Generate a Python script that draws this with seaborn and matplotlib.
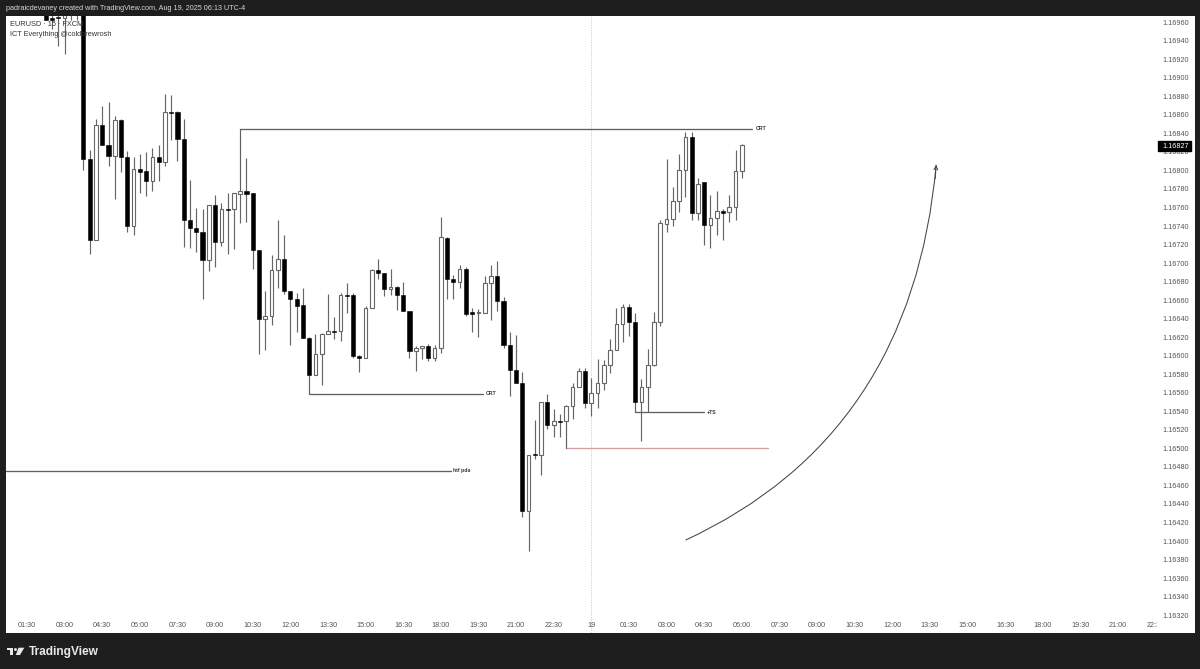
import numpy as np
import pandas as pd
import matplotlib
matplotlib.use("Agg")
import matplotlib.pyplot as plt
from matplotlib.patches import Rectangle, Polygon, PathPatch
from matplotlib.path import Path
from matplotlib.transforms import Bbox
import seaborn as sns

# ---- data (prices in 1e-5 units) ----
first_index = 3
opens = [116975,116964,116966,116965,116970,116972,117000,116812,116725,116849,116827,116816,116854,116815,116740,
 116801,116799,116789,116814,116809,116863,116863,116834,116747,116738,116734,116703,116763,116723,116758,116758,
 116775,116778,116776,116714,116640,116643,116693,116704,116670,116661,116655,116619,116579,116602,116623,116627,
 116627,116666,116666,116600,116598,116652,116693,116689,116672,116674,116666,116648,116605,116608,116610,116597,
 116608,116727,116683,116680,116694,116647,116646,116646,116679,116686,116659,116612,116585,116571,116432,116494,
 116493,116550,116525,116530,116529,116546,116566,116583,116549,116560,116571,116590,116606,116634,116653,116636,
 116550,116566,116590,116636,116742,116748,116767,116800,116836,116754,116787,116741,116749,116756,116755,116760,116799]
highs = [116975,116975,116975,116975,116975,116975,117000,116822,116856,116870,116874,116859,116856,116821,116814,
 116818,116820,116824,116827,116883,116881,116864,116856,116790,116759,116758,116763,116774,116765,116776,116776,
 116778,116813,116776,116714,116670,116709,116746,116730,116670,116668,116673,116620,116623,116625,116667,116642,
 116668,116678,116668,116601,116654,116694,116704,116689,116694,116675,116680,116648,116610,116611,116613,116612,
 116750,116728,116687,116698,116696,116652,116650,116686,116698,116702,116663,116626,116622,116582,116493,116531,
 116550,116559,116542,116537,116547,116571,116587,116587,116576,116596,116595,116618,116651,116656,116656,116646,
 116575,116607,116647,116747,116812,116782,116818,116841,116842,116792,116787,116774,116778,116758,116774,116822,116829]
lows = [116962,116953,116934,116926,116962,116962,116800,116710,116725,116827,116805,116769,116798,116734,116730,
 116776,116772,116778,116789,116805,116833,116810,116717,116716,116712,116661,116691,116696,116718,116710,116715,
 116743,116744,116694,116602,116606,116633,116673,116667,116612,116626,116619,116579,116579,116568,116623,116618,
 116616,116646,116598,116582,116598,116652,116683,116664,116666,116649,116648,116597,116584,116596,116594,116594,
 116603,116661,116661,116673,116643,116626,116620,116646,116639,116648,116608,116557,116571,116426,116389,116489,
 116471,116521,116512,116512,116529,116532,116566,116544,116535,116544,116563,116581,116606,116615,116621,116550,
 116508,116566,116589,116632,116734,116740,116755,116771,116747,116746,116720,116716,116730,116725,116744,116746,116792]
closes = [116962,116962,116964,116968,116971,116973,116812,116725,116849,116827,116816,116854,116815,116740,116801,
 116798,116789,116814,116809,116863,116862,116834,116747,116738,116734,116703,116763,116723,116758,116757,116776,
 116778,116775,116714,116640,116643,116693,116704,116670,116661,116654,116619,116579,116602,116623,116627,116626,
 116665,116664,116600,116598,116652,116693,116689,116672,116674,116665,116648,116605,116608,116610,116597,116608,
 116728,116683,116680,116694,116645,116645,116647,116679,116686,116659,116612,116585,116571,116432,116493,116493,
 116550,116525,116530,116528,116546,116566,116583,116549,116560,116571,116590,116606,116634,116653,116636,116550,
 116566,116590,116636,116743,116748,116767,116800,116836,116754,116785,116741,116749,116756,116754,116760,116799,116827]

level_names  = ["CRT", "CRT", "+TS", "", "htf pda"]
level_start  = [34.0, 45.0, 97.0, 86.0, -3.35]
level_end    = [115.7, 72.7, 108.0, 118.1, 67.6]
level_prices = [116845, 116559, 116539, 116500, 116476]
level_labelx = [116.2, 73.2, 108.4, None, 67.9]
level_anchor = [116778, 116579, 116550, 116529, None]

extra_stem_x  = [99.0]
extra_stem_lo = [116539]
extra_stem_hi = [116566]

# the drawn curve: start, bend and end of the arc
arc_x = [105.05, 141.15, 145.0]
arc_y = [116401, 116514, 116806]

time_ticks  = list(range(0, 181, 6))
time_labels = ["01:30","03:00","04:30","06:00","07:30","09:00","10:30","12:00","13:30","15:00","16:30","18:00",
               "19:30","21:00","22:30","19","01:30","03:00","04:30","06:00","07:30","09:00","10:30","12:00",
               "13:30","15:00","16:30","18:00","19:30","21:00","22:30"]
price_ticks = [116320 + 20 * i for i in range(33)]
last_price  = 116827

SCALE = 1e5
BG = "#1e1e1e"
FONT = ["Liberation Sans", "DejaVu Sans"]
TXT = 5.2

sns.set_style("white")
plt.rcParams["font.family"] = FONT

fig = plt.figure(figsize=(12, 6.69), dpi=100, facecolor=BG)
ax = fig.add_axes([6/1200, 1-633/669, 1189/1200, 617.4/669])
ax.set_facecolor("white")
for s in ax.spines.values():
    s.set_visible(False)

df = pd.DataFrame({"o": opens, "h": highs, "l": lows, "c": closes}) / SCALE
df["i"] = np.arange(len(df)) + first_index
up = df[df.c >= df.o]
dn = df[df.c < df.o]

# crosshair
ax.axvline(90, color="#c8c8c8", lw=0.6, ls=(0, (1.5, 1.5)), zorder=0.5)

# wicks
ax.vlines(df.i, df.l, df.h, color="#666666", lw=0.85, zorder=2)
# bodies
ax.bar(dn.i, (dn.o - dn.c), bottom=dn.c, width=0.66, color="black", edgecolor="black", lw=0.4, zorder=3)
ax.bar(up.i, (up.c - up.o), bottom=up.o, width=0.58, color="white", edgecolor="#666666", lw=0.8, zorder=3)

# levels through seaborn
for name, a, b, p, lx, anc in zip(level_names, level_start, level_end, level_prices, level_labelx, level_anchor):
    col = "#f08f98" if name == "" else "#606060"
    sns.lineplot(x=[a, b], y=[p / SCALE, p / SCALE], ax=ax, color=col, lw=0.95, errorbar=None, legend=False, zorder=2.5)
    if anc is not None:
        sns.lineplot(x=[a, a], y=[p / SCALE, anc / SCALE], ax=ax, color="#606060",
                     lw=0.85, errorbar=None, legend=False, zorder=2.5, sort=False, estimator=None)
    if lx is not None:
        ax.text(lx, p / SCALE, name, fontsize=3.7, fontweight="bold", color="#333333", va="center", ha="left")
for x, lo, hi in zip(extra_stem_x, extra_stem_lo, extra_stem_hi):
    sns.lineplot(x=[x, x], y=[lo / SCALE, hi / SCALE], ax=ax, color="#606060", lw=0.85,
                 errorbar=None, legend=False, zorder=2.5, sort=False, estimator=None)

# curve with arrow
arc_pts = list(zip(arc_x, np.array(arc_y) / SCALE))
ax.add_patch(PathPatch(Path(arc_pts, [Path.MOVETO, Path.CURVE3, Path.CURVE3]),
                       fc="none", ec="#444444", lw=0.75, zorder=2.5))
ax.annotate("", xy=arc_pts[2], xytext=(arc_x[2] - 0.15, (arc_y[2] - 15) / SCALE),
            arrowprops=dict(arrowstyle="->", lw=0.7, color="#444444", mutation_scale=7, shrinkA=0, shrinkB=0))

ax.set_xlim(-3.349, 186.28)
ax.set_ylim(1.163007, 1.169671)
ax.set_xlabel("")
ax.set_ylabel("")

# axes ticks, inside the panel
ax.yaxis.tick_right()
ax.set_xticks(time_ticks)
ax.set_xticklabels(time_labels)
ax.set_yticks([p / SCALE for p in price_ticks])
ax.set_yticklabels([f"{p / SCALE:.5f}" for p in price_ticks])
ax.tick_params(axis="x", length=0, pad=-7.9, labelsize=TXT, labelcolor="#555555")
ax.tick_params(axis="y", length=0, pad=-23.2, labelsize=TXT, labelcolor="#555555")
for lab in ax.get_xticklabels():
    lab.set_clip_box(Bbox([[0, 0], [1157, 669]]))
    lab.set_clip_on(True)

# title lines in the chart
def px(x, y):
    return x / 1200, 1 - y / 669

fig_tf = fig.transFigure
ax.text(*px(10, 24.5), "EURUSD · 15 · FXCM", transform=fig_tf, fontsize=5.3, color="#333333", va="center", zorder=6)
ax.text(*px(10, 34.5), "ICT Everything @coldbrewrosh", transform=fig_tf, fontsize=5.3, color="#333333", va="center", zorder=6)

# price tag
ax.add_patch(Rectangle(px(1158, 150.7), 33/1200, 9.4/669, transform=fig_tf, color="black", zorder=6, clip_on=False))
ax.text(*px(1162, 146), f"{last_price / SCALE:.5f}", transform=fig_tf, fontsize=TXT, color="white", va="center", zorder=7)

# header and footer
fig.text(*px(6, 8), "padraicdevaney created with TradingView.com, Aug 19, 2025 06:13 UTC-4",
         fontsize=5.25, color="#d8d8d8", va="center")
fig.text(*px(28.5, 652), "TradingView", fontsize=8.6, fontweight="bold", color="#e8e8e8", va="center",
         family=["Liberation Sans"])

logo = "#e8e8e8"
fig.add_artist(Polygon([px(7, 647.7), px(13.4, 647.7), px(13.4, 655), px(10, 655), px(10, 650.3), px(7, 650.3)],
                       transform=fig_tf, color=logo, lw=0))
fig.add_artist(Polygon([px(18.5, 647.7), px(24.3, 647.7), px(20, 655), px(15.8, 655)],
                       transform=fig_tf, color=logo, lw=0))
cx, cy = px(15.3, 649.2)
fig.add_artist(plt.Line2D([cx], [cy], marker="o", ms=2.1, color=logo, lw=0, mew=0, transform=fig_tf))

fig.savefig("out.png", dpi=100, facecolor=BG)
